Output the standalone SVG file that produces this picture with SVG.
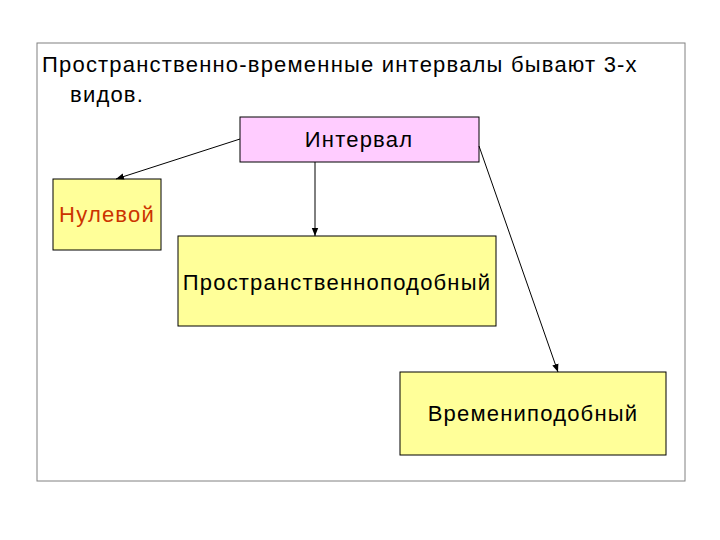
<svg xmlns="http://www.w3.org/2000/svg" width="720" height="540" viewBox="0 0 720 540">
<style>
text{font-family:"Liberation Sans",Arial,sans-serif;font-size:22px;letter-spacing:1.2px;fill:#000}
.box{stroke:#000;stroke-width:1}
.y{fill:#ffff99}
.c{stroke:#000;stroke-width:1;fill:none;marker-end:url(#a)}
</style>
<defs><marker id="a" viewBox="0 0 10 10" refX="10" refY="5" markerWidth="8" markerHeight="8" orient="auto"><path d="M0,1 L10,5 L0,9 z" fill="#000"/></marker></defs>
<rect width="720" height="540" fill="#fff"/>
<rect x="37" y="43" width="648" height="438" fill="none" stroke="#808080"/>
<text x="42" y="72">Пространственно-временные интервалы бывают 3-х</text>
<text x="70" y="102">видов.</text>
<g id="interval"><rect class="box" x="240" y="117" width="239" height="45" fill="#ffccff"/><text x="359" y="147" text-anchor="middle">Интервал</text></g>
<g id="nulevoy"><rect class="box y" x="53" y="179" width="108" height="71"/><text x="107" y="222" text-anchor="middle" style="fill:#cc3300">Нулевой</text></g>
<g id="prostr"><rect class="box y" x="178" y="236" width="318" height="90"/><text x="337" y="290" text-anchor="middle">Пространственноподобный</text></g>
<g id="vrem"><rect class="box y" x="400" y="372" width="266" height="83"/><text x="533" y="421" text-anchor="middle">Времениподобный</text></g>
<g id="connectors">
<line class="c" x1="240" y1="139" x2="116" y2="179"/>
<line class="c" x1="315" y1="162" x2="315" y2="236"/>
<line class="c" x1="479" y1="146" x2="558" y2="372"/>
</g>
</svg>
